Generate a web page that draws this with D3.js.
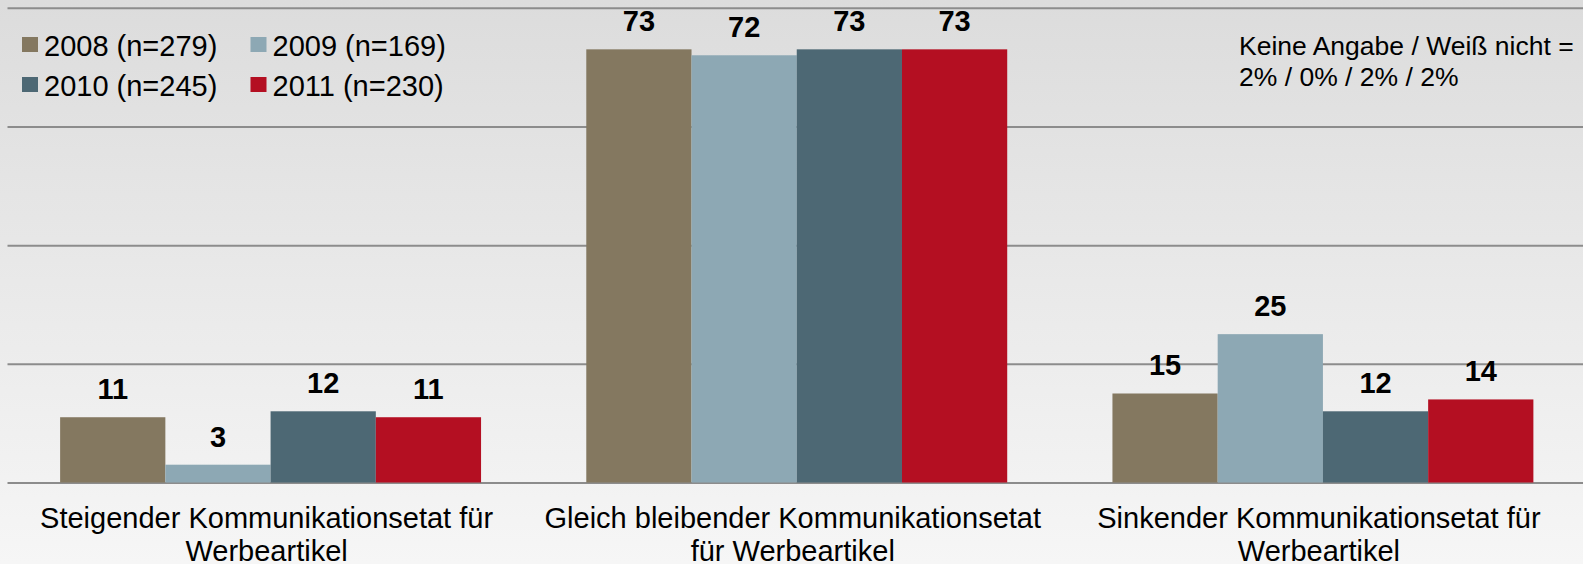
<!DOCTYPE html>
<html>
<head>
<meta charset="utf-8">
<script src="https://cdn.jsdelivr.net/npm/d3@7"></script>
<style>
  html, body { margin: 0; padding: 0; }
  body { width: 1583px; height: 564px; overflow: hidden; }
  text { font-family: "Liberation Sans", Arial, sans-serif; }
</style>
</head>
<body>
<svg id="chart" width="1583" height="564"></svg>
<script>
// ---- data ----
const categories = ["Steigend", "Gleich", "Sinkend"];
const categoryLabels = [
  ["Steigender Kommunikationsetat für", "Werbeartikel"],
  ["Gleich bleibender Kommunikationsetat", "für Werbeartikel"],
  ["Sinkender Kommunikationsetat für", "Werbeartikel"]
];
const seriesNames = ["2008 (n=279)", "2009 (n=169)", "2010 (n=245)", "2011 (n=230)"];
const values2008 = [11, 73, 15];
const values2009 = [3, 72, 25];
const values2010 = [12, 73, 12];
const values2011 = [11, 73, 14];
const seriesColors = ["#847860", "#8da8b4", "#4d6874", "#b40f22"];
const gridTicks = [0, 20, 40, 60, 80];
const noteLines = ["Keine Angabe / Weiß nicht =", "2% / 0% / 2% / 2%"];

const seriesValues = [values2008, values2009, values2010, values2011];

// ---- layout ----
const W = 1583, H = 564;
const svg = d3.select("#chart");

const defs = svg.append("defs");
const grad = defs.append("linearGradient").attr("id", "bg")
  .attr("x1", 0).attr("y1", 0).attr("x2", 0).attr("y2", 1);
grad.append("stop").attr("offset", "0%").attr("stop-color", "#dcdcdc");
grad.append("stop").attr("offset", "100%").attr("stop-color", "#f6f6f6");
svg.append("rect").attr("width", W).attr("height", H).attr("fill", "url(#bg)");

const plotLeft = 7.5, plotRight = 1586;
const y = d3.scaleLinear().domain([0, 80]).range([482.5, 7.8]);
const x0 = d3.scaleBand().domain(categories).range([plotLeft, plotRight])
  .paddingInner(0.2).paddingOuter(0.1);
const x1 = d3.scaleBand().domain(seriesNames).range([0, x0.bandwidth()]).padding(0);
const color = d3.scaleOrdinal().domain(seriesNames).range(seriesColors);

// gridlines
const grid = svg.append("g").attr("transform", `translate(${plotLeft},0)`)
  .call(d3.axisLeft(y).tickValues(gridTicks).tickSize(-(W - plotLeft)).tickFormat(""));
grid.select(".domain").remove();
grid.selectAll(".tick line").attr("stroke", "#8c8c8c").attr("stroke-width", 2);

// bars
const data = [];
categories.forEach((c, ci) => {
  seriesNames.forEach((s, si) => {
    data.push({ cat: c, series: s, value: seriesValues[si][ci] });
  });
});

const groups = svg.append("g");
groups.selectAll("rect.bar").data(data).enter().append("rect")
  .attr("class", "bar")
  .attr("x", d => x0(d.cat) + x1(d.series))
  .attr("y", d => y(d.value))
  .attr("width", x1.bandwidth())
  .attr("height", d => y(0) - y(d.value))
  .attr("fill", d => color(d.series));

// value labels
groups.selectAll("text.val").data(data).enter().append("text")
  .attr("class", "val")
  .attr("x", d => x0(d.cat) + x1(d.series) + x1.bandwidth() / 2)
  .attr("y", d => y(d.value) - 18)
  .attr("text-anchor", "middle")
  .attr("font-size", "29px")
  .attr("font-weight", "bold")
  .attr("fill", "#000")
  .text(d => d.value);

// category labels
const catG = svg.append("g");
categories.forEach((c, ci) => {
  const t = catG.append("text")
    .attr("text-anchor", "middle")
    .attr("font-size", "29px")
    .attr("fill", "#000");
  categoryLabels[ci].forEach((line, li) => {
    t.append("tspan")
      .attr("x", x0(c) + x0.bandwidth() / 2 - 4)
      .attr("y", 528 + li * 33)
      .text(line);
  });
});

// legend
const legendPos = [[22, 37], [250.5, 37], [22, 77], [250.5, 77]];
const leg = svg.append("g");
seriesNames.forEach((s, i) => {
  const [lx, ly] = legendPos[i];
  leg.append("rect").attr("x", lx).attr("y", ly).attr("width", 16).attr("height", 15)
    .attr("fill", color(s));
  leg.append("text").attr("x", lx + 22).attr("y", ly + 18.5)
    .attr("font-size", "29px").attr("fill", "#000").text(s);
});

// note
const note = svg.append("text").attr("font-size", "26.5px").attr("fill", "#000");
noteLines.forEach((line, i) => {
  note.append("tspan").attr("x", 1239).attr("y", 55 + i * 31).text(line);
});
</script>
</body>
</html>
